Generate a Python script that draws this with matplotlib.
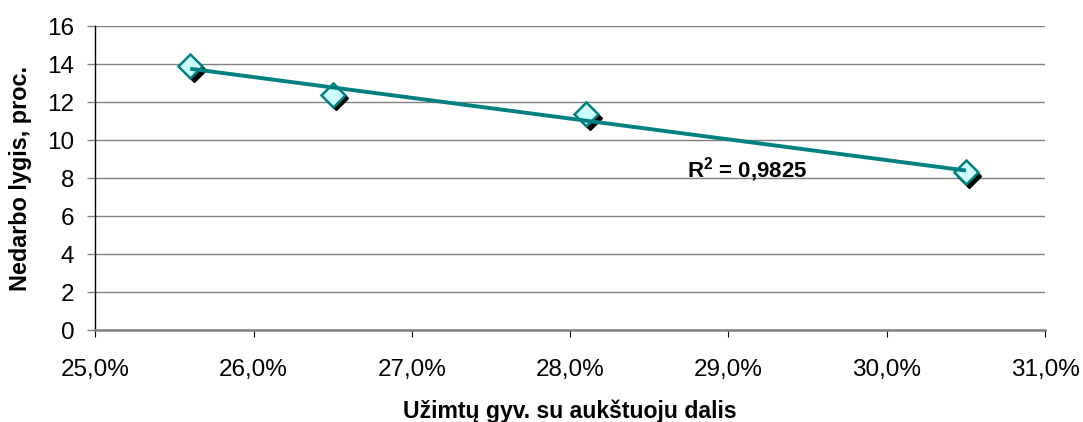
import numpy as np
import matplotlib
matplotlib.use("Agg")
import matplotlib.pyplot as plt
import matplotlib.transforms as mtransforms
from matplotlib.ticker import FuncFormatter

plt.rcParams['font.family'] = ['Liberation Sans', 'DejaVu Sans']
plt.rcParams['mathtext.fontset'] = 'custom'
plt.rcParams['mathtext.rm'] = 'Liberation Sans:bold'
plt.rcParams['mathtext.bf'] = 'Liberation Sans:bold'

# data
share = [25.6, 26.5, 28.1, 30.5]       # Užimtų gyv. su aukštuoju dalis, %
unemployment = [13.9, 12.4, 11.35, 8.3]  # Nedarbo lygis, proc.
r2_text = "R$^2$ = 0,9825"

teal = "#008080"
grid_gray = "#808080"

fig = plt.figure(figsize=(10.83, 4.22), dpi=100)
ax = fig.add_axes([0.088, 0.218, 0.877, 0.720])

x = np.array(share)
y = np.array(unemployment)

# shadow markers, offset down-right
shadow = mtransforms.offset_copy(ax.transData, fig=fig, x=3.5, y=-3.5, units='dots')
ax.plot(x, y, linestyle='none', marker='D', markersize=12.5, color='black',
        transform=shadow, zorder=3)
ax.plot(x, y, linestyle='none', marker='D', markersize=12.5,
        markerfacecolor='#ccffff', markeredgecolor=teal, markeredgewidth=1.8, zorder=4)

# linear trendline
k, b = np.polyfit(x, y, 1)
xs = np.array([x.min(), x.max()])
ax.plot(xs, k * xs + b, color=teal, linewidth=2.8, zorder=5, solid_capstyle='butt')

ax.text(28.74, 8.05, r2_text, fontsize=16, fontweight='bold', va='baseline', ha='left', zorder=6)

ax.set_xlim(25, 31)
ax.set_ylim(0, 16)
ax.set_xticks(np.arange(25, 31.01, 1))
ax.set_yticks(np.arange(0, 16.01, 2))
ax.xaxis.set_major_formatter(FuncFormatter(lambda v, p: f"{v:.1f}%".replace('.', ',')))

ax.grid(axis='y', color=grid_gray, linewidth=1.0)
ax.set_axisbelow(True)
for s in ['top', 'right']:
    ax.spines[s].set_visible(False)
ax.spines['left'].set_color('black')
ax.spines['left'].set_linewidth(1.0)
ax.spines['bottom'].set_color(grid_gray)
ax.spines['bottom'].set_linewidth(1.8)
ax.tick_params(axis='x', length=5, width=0.8, color='black', labelsize=17.5, pad=16)
ax.tick_params(axis='y', length=6, width=1.0, color=grid_gray, labelsize=17.5, pad=9)

ax.set_xlabel("Užimtų gyv. su aukštuoju dalis", fontsize=16.6, fontweight='bold', labelpad=13)
ax.set_ylabel("Nedarbo lygis, proc.", fontsize=16.8, fontweight='bold', labelpad=11)

fig.savefig("out.png", dpi=100)
